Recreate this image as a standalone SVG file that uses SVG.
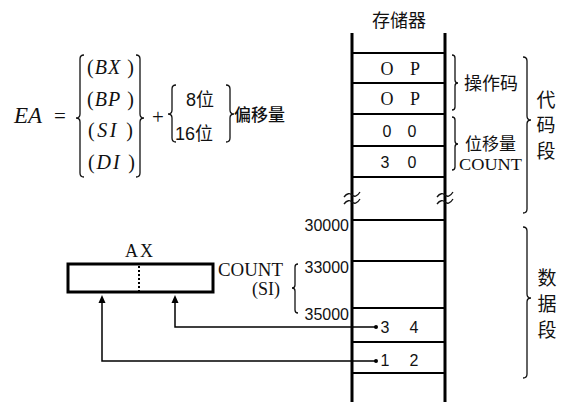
<svg xmlns="http://www.w3.org/2000/svg" width="581" height="417" viewBox="0 0 581 417">
  <style>
    .serif { font-family: "Liberation Serif", "Times New Roman", serif; fill: #111; }
    .ital { font-family: "Liberation Serif", "Times New Roman", serif; font-style: italic; fill: #111; }
    .sans { font-family: "Liberation Sans", Arial, sans-serif; fill: #111; }
    .cjk { font-family: "Noto Sans CJK SC", "Noto Sans", sans-serif; fill: #111; }
    .brace { fill: none; stroke: #111; stroke-width: 1.3; }
    .wall { stroke: #000; stroke-width: 3; }
    .cell { stroke: #000; stroke-width: 2; }
    .wire { fill: none; stroke: #000; stroke-width: 1.5; }
    .head { fill: #000; }
  </style>
  <rect width="581" height="417" fill="#fff"/>

  <!-- effective address formula -->
  <g id="formula">
    <text class="ital" x="14" y="123" font-size="23">EA</text>
    <text class="serif" x="54" y="123" font-size="21">=</text>
    <path class="brace" d="M84,55 q-4,0 -4,4 V114 q0,4 -4,4 q4,0 4,4 V173 q0,4 4,4"/>
    <text class="serif" x="87" y="74" font-size="20" textLength="47" lengthAdjust="spacing">(<tspan class="ital">BX</tspan> )</text>
    <text class="serif" x="87" y="106" font-size="20" textLength="47" lengthAdjust="spacing">(<tspan class="ital">BP</tspan> )</text>
    <text class="serif" x="88" y="137" font-size="20" textLength="45" lengthAdjust="spacing">(<tspan class="ital">SI</tspan> )</text>
    <text class="serif" x="88" y="169" font-size="20" textLength="47" lengthAdjust="spacing">(<tspan class="ital">DI</tspan> )</text>
    <path class="brace" d="M136,55 q4,0 4,4 V114 q0,4 4,4 q-4,0 -4,4 V173 q0,4 -4,4"/>
    <text class="serif" x="152" y="124" font-size="21">+</text>
    <path class="brace" d="M176,85 q-4,0 -4,4 V110 q0,4 -4,4 q4,0 4,4 V138 q0,4 4,4"/>
    <text class="sans" x="186" y="106" font-size="18">8<tspan class="cjk">位</tspan></text>
    <text class="sans" x="175" y="140" font-size="18">16<tspan class="cjk">位</tspan></text>
    <path class="brace" d="M226,85 q4,0 4,4 V110 q0,4 4,4 q-4,0 -4,4 V138 q0,4 -4,4"/>
    <text class="cjk" x="234" y="121" font-size="17" font-weight="500">偏移量</text>
  </g>

  <!-- memory column -->
  <g id="memory">
    <text class="cjk" x="399" y="27" font-size="18" text-anchor="middle">存储器</text>
    <line class="wall" x1="352" y1="33" x2="352" y2="402"/>
    <line class="wall" x1="445" y1="33" x2="445" y2="402"/>
    <line class="cell" x1="352" y1="53" x2="445" y2="53"/>
    <line class="cell" x1="352" y1="83" x2="445" y2="83"/>
    <line class="cell" x1="352" y1="114" x2="445" y2="114"/>
    <line class="cell" x1="352" y1="146" x2="445" y2="146"/>
    <line class="cell" x1="352" y1="177" x2="445" y2="177"/>
    <line class="cell" x1="352" y1="220" x2="445" y2="220"/>
    <line class="cell" x1="352" y1="261" x2="445" y2="261"/>
    <line class="cell" x1="352" y1="308" x2="445" y2="308"/>
    <line class="cell" x1="352" y1="342" x2="445" y2="342"/>
    <line class="cell" x1="352" y1="373" x2="445" y2="373"/>
    <!-- break marks -->
    <path class="brace" stroke-width="1.6" d="M344,197 c3,-4 6,-4 8,-2 s5,2 8,-3 M344,204 c3,-4 6,-4 8,-2 s5,2 8,-3"/>
    <path class="brace" stroke-width="1.6" d="M437,197 c3,-4 6,-4 8,-2 s5,2 8,-3 M437,204 c3,-4 6,-4 8,-2 s5,2 8,-3"/>
    <!-- cell contents -->
    <text class="serif" x="387" y="75" font-size="18" text-anchor="middle">O</text>
    <text class="serif" x="415" y="75" font-size="18" text-anchor="middle">P</text>
    <text class="serif" x="387" y="105" font-size="18" text-anchor="middle">O</text>
    <text class="serif" x="415" y="105" font-size="18" text-anchor="middle">P</text>
    <text class="sans" x="387" y="137" font-size="16" text-anchor="middle">0</text>
    <text class="sans" x="412" y="137" font-size="16" text-anchor="middle">0</text>
    <text class="sans" x="385" y="168" font-size="16" text-anchor="middle">3</text>
    <text class="sans" x="412" y="168" font-size="16" text-anchor="middle">0</text>
    <text class="sans" x="385" y="333" font-size="16" text-anchor="middle">3</text>
    <text class="sans" x="414" y="333" font-size="16" text-anchor="middle">4</text>
    <text class="sans" x="385" y="366" font-size="16" text-anchor="middle">1</text>
    <text class="sans" x="414" y="366" font-size="16" text-anchor="middle">2</text>
    <!-- addresses -->
    <text class="sans" x="349" y="231" font-size="16" text-anchor="end">30000</text>
    <text class="sans" x="349" y="273" font-size="16" text-anchor="end">33000</text>
    <text class="sans" x="349" y="320" font-size="16" text-anchor="end">35000</text>
  </g>

  <!-- segment labels -->
  <g id="opcode-label">
    <path class="brace" d="M452,55 q3,0 3,3 V80 q0,3 3,3 q-3,0 -3,3 V107 q0,3 -3,3"/>
    <text class="cjk" x="464" y="90" font-size="18">操作码</text>
  </g>
  <g id="disp-label">
    <path class="brace" d="M452,117 q3,0 3,3 V141 q0,3 3,3 q-3,0 -3,3 V167 q0,3 -3,3"/>
    <text class="cjk" x="465" y="150" font-size="17">位移量</text>
    <text class="serif" x="459" y="170" font-size="17" textLength="63" lengthAdjust="spacingAndGlyphs">COUNT</text>
  </g>
  <g id="code-seg-label">
    <path class="brace" d="M523,57 q4,0 4,4 V116 q0,4 4,4 q-4,0 -4,4 V209 q0,4 -4,4"/>
    <text class="cjk" x="546" y="107" font-size="19" text-anchor="middle">代</text>
    <text class="cjk" x="546" y="132" font-size="19" text-anchor="middle">码</text>
    <text class="cjk" x="546" y="158" font-size="19" text-anchor="middle">段</text>
  </g>
  <g id="data-seg-label">
    <path class="brace" d="M523,227 q4,0 4,4 V294 q0,4 4,4 q-4,0 -4,4 V374 q0,4 -4,4"/>
    <text class="cjk" x="547" y="285" font-size="19" text-anchor="middle">数</text>
    <text class="cjk" x="547" y="311" font-size="19" text-anchor="middle">据</text>
    <text class="cjk" x="547" y="337" font-size="19" text-anchor="middle">段</text>
  </g>
  <g id="count-si-label">
    <text class="serif" x="218" y="276" font-size="18" textLength="65" lengthAdjust="spacingAndGlyphs">COUNT</text>
    <text class="serif" x="266" y="295" font-size="18" text-anchor="middle">(SI)</text>
    <path class="brace" d="M298,264 q-3,0 -3,3 V285 q0,3 -3,3 q3,0 3,3 V310 q0,3 3,3"/>
  </g>

  <!-- AX register -->
  <g id="ax">
    <text class="serif" x="140" y="257" font-size="18" text-anchor="middle" letter-spacing="2">AX</text>
    <rect x="68" y="264" width="145" height="28" fill="#fff" stroke="#000" stroke-width="3"/>
    <line x1="139" y1="266" x2="139" y2="291" stroke="#000" stroke-width="2" stroke-dasharray="2,2"/>
  </g>

  <!-- data paths from memory into AX -->
  <g id="connectors">
    <path class="wire" d="M376,327 H175 V302"/>
    <path class="wire" d="M376,361 H102 V302"/>
    <polygon class="head" points="175,295 171.5,303 178.5,303"/>
    <polygon class="head" points="102,295 98.5,303 105.5,303"/>
    <circle cx="376" cy="327" r="2" fill="#000"/>
    <circle cx="376" cy="361" r="2" fill="#000"/>
  </g>
</svg>
